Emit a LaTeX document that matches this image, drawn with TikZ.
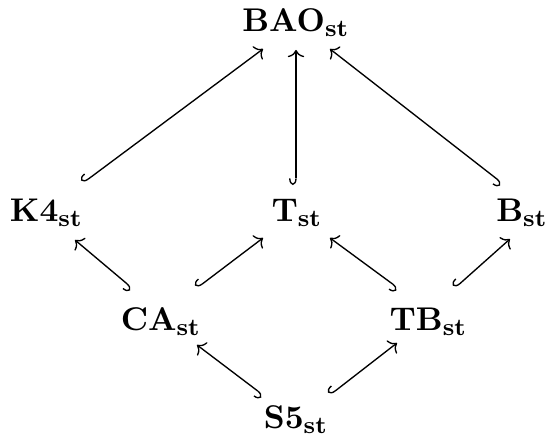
\documentclass[tikz,border=0pt]{standalone}
\usetikzlibrary{arrows.meta}
\begin{document}
\begin{tikzpicture}[x=0.33333pt,y=-0.33333pt,
  lbl/.style={anchor=base,inner sep=3pt,font=\fontsize{10.95}{13}\selectfont},
  inc/.style={{Hooks[right,length=2.2pt,width=4.6pt]}-{To[length=2.4pt,width=5.5pt]},line width=0.45pt}]
\useasboundingbox (0,0) rectangle (555,439);
\node[lbl] (bao) at (296,32) {$\mathbf{BAO}_{\mathbf{st}}$};
\node[lbl] (k4) at (46.5,222) {$\mathbf{K4}_{\mathbf{st}}$};
\node[lbl] (t) at (297,222) {$\mathbf{T}_{\mathbf{st}}$};
\node[lbl] (b) at (522,222) {$\mathbf{B}_{\mathbf{st}}$};
\node[lbl] (ca) at (161,331) {$\mathbf{CA}_{\mathbf{st}}$};
\node[lbl] (tb) at (428.5,331) {$\mathbf{TB}_{\mathbf{st}}$};
\node[lbl] (s5) at (296,429) {$\mathbf{S5}_{\mathbf{st}}$};
\draw[inc] ([shift={(36.5,-39)}]k4.base) -- ([shift={(-33,17)}]bao.base);
\draw[inc] ([shift={(-1,-37)}]t.base) -- ([shift={(0,18)}]bao.base);
\draw[inc] ([shift={(-20,-39)}]b.base) -- ([shift={(34,17)}]bao.base);
\draw[inc] ([shift={(-29,-43)}]ca.base) -- ([shift={(28.5,18)}]k4.base);
\draw[inc] ([shift={(36,-43)}]ca.base) -- ([shift={(-34,16)}]t.base);
\draw[inc] ([shift={(-30.5,-43)}]tb.base) -- ([shift={(33,16)}]t.base);
\draw[inc] ([shift={(26.5,-43)}]tb.base) -- ([shift={(-12,17)}]b.base);
\draw[inc] ([shift={(-33,-34)}]s5.base) -- ([shift={(36,14)}]ca.base);
\draw[inc] ([shift={(34,-34)}]s5.base) -- ([shift={(-31.5,12)}]tb.base);
\end{tikzpicture}
\end{document}
